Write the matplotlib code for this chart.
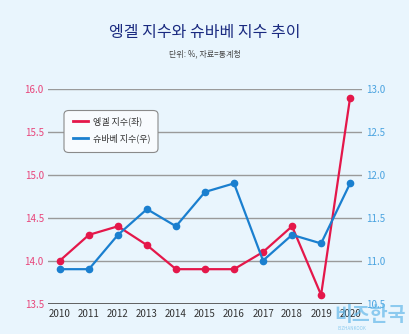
import matplotlib.pyplot as plt
from matplotlib.patches import FancyBboxPatch

plt.rcParams['font.family'] = ['Noto Sans CJK KR', 'DejaVu Sans']

# ---------------- DATA ----------------
years = [2010, 2011, 2012, 2013, 2014, 2015, 2016, 2017, 2018, 2019, 2020]
engel = [14.0, 14.3, 14.4, 14.18, 13.9, 13.9, 13.9, 14.1, 14.4, 13.6, 15.9]
schwabe = [10.9, 10.9, 11.3, 11.6, 11.4, 11.8, 11.9, 11.0, 11.3, 11.2, 11.9]
left_ticks = [13.5, 14.0, 14.5, 15.0, 15.5, 16.0]
right_ticks = [10.5, 11.0, 11.5, 12.0, 12.5, 13.0]

bg = '#e9f5fd'
red = '#e4174a'
blue = '#1a7fcf'

fig = plt.figure(figsize=(4.10, 3.34), dpi=100, facecolor=bg)
ax = fig.add_axes([48 / 410, 1 - 303.5 / 334, 314 / 410, 214.5 / 334])
ax.set_facecolor(bg)
ax2 = ax.twinx()

ax.set_xlim(2009.59, 2020.41)
ax.set_ylim(13.5, 16.0)
ax2.set_ylim(10.5, 13.0)

# grid lines
for v in left_ticks[1:]:
    ax.axhline(v, color='#9a9a9a', lw=1.0, zorder=1)
ax.axhline(13.5, color='#555555', lw=1.3, zorder=1)

for a in (ax, ax2):
    for s in a.spines.values():
        s.set_visible(False)

ax.set_xticks(years)
ax.set_xticklabels([str(y) for y in years], fontsize=7, color='#333333')
ax.tick_params(axis='x', length=0, pad=4)

ax.set_yticks(left_ticks)
ax.set_yticklabels([f'{v:.1f}' for v in left_ticks], fontsize=7, color='#e8457a')
ax.tick_params(axis='y', length=0, pad=3)

ax2.set_yticks(right_ticks)
ax2.set_yticklabels([f'{v:.1f}' for v in right_ticks], fontsize=7, color='#4aa3e0')
ax2.tick_params(axis='y', length=0, pad=3)

ax.plot(years, engel, color=red, lw=1.6, marker='o', markersize=4.5,
        clip_on=False, zorder=3)
ax2.plot(years, schwabe, color=blue, lw=1.6, marker='o', markersize=4.5,
         clip_on=False, zorder=3)

# legend box
box = FancyBboxPatch((64 / 410, 1 - 152.5 / 334), 94 / 410, 42 / 334,
                     boxstyle='round,pad=0,rounding_size=0.012',
                     transform=fig.transFigure, facecolor='#f8fbfe',
                     edgecolor='#8a8a8a', lw=0.8, zorder=5)
fig.patches.append(box)
l1 = plt.Line2D([73 / 410, 88 / 410], [1 - 121 / 334] * 2,
                transform=fig.transFigure, color=red, lw=2, zorder=6)
l2 = plt.Line2D([73 / 410, 88 / 410], [1 - 138 / 334] * 2,
                transform=fig.transFigure, color=blue, lw=2, zorder=6)
fig.lines.extend([l1, l2])
fig.text(93 / 410, 1 - 121 / 334, '엥겔 지수(좌)', fontsize=6.5, color='#333333',
         va='center', zorder=7)
fig.text(93 / 410, 1 - 138 / 334, '슈바베 지수(우)', fontsize=6.5, color='#333333',
         va='center', zorder=7)

# titles
fig.text(0.5, 1 - 32 / 334, '엥겔 지수와 슈바베 지수 추이', fontsize=11.5,
         color='#1a2a80', ha='center', va='center', fontweight='medium')
fig.text(0.5, 1 - 54 / 334, '단위: %, 자료=통계청', fontsize=5.8,
         color='#444444', ha='center', va='center')

# watermark
fig.text(370 / 410, 1 - 315 / 334, '비즈한국', fontsize=14, color='#5ab4e8',
         alpha=0.65, ha='center', va='center', fontweight='bold', zorder=8)
fig.text(352 / 410, 1 - 329 / 334, 'BIZHANKOOK', fontsize=3.2, color='#5ab4e8',
         alpha=0.65, ha='center', va='center', zorder=8)

fig.savefig('out.png', dpi=100, facecolor=bg)
